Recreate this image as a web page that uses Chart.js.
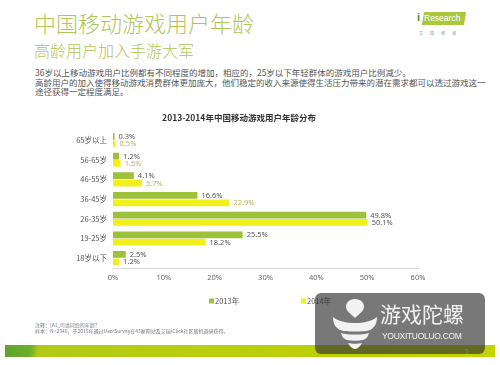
<!DOCTYPE html>
<html>
<head>
<meta charset="utf-8">
<script src="https://cdn.jsdelivr.net/npm/chart.js@4"></script>
<style>
  body { margin: 0; background: #fff; }
  #page { position: relative; width: 500px; height: 365px; overflow: hidden; font-family: "Noto Sans CJK SC", "Noto Sans", sans-serif; }
  .abs { position: absolute; white-space: nowrap; }
  #title { left: 34px; top: 11px; font-size: 22px; font-weight: 300; color: #adc758; line-height: 1; }
  #subtitle { left: 34px; top: 42px; font-size: 16px; font-weight: 300; color: #adc758; line-height: 1; }
  .body { left: 35px; font-size: 8.5px; color: #555; line-height: 1; }
  .note { left: 35px; font-size: 5px; color: #777; line-height: 1; }
  #chartBox { position: absolute; left: 0; top: 106px; width: 500px; height: 204px; }
  #band { left: 5px; top: 345px; width: 490px; height: 12px;
    background: linear-gradient(100deg, #5ea42e 0px, #6fae2a 26px, #b2ca16 34px, #c3d400 100%); }
  #wm { left: 315px; top: 293px; width: 170px; height: 61px; border-radius: 6px; background: rgba(50,50,50,0.66); }
</style>
</head>
<body>
<div id="page">
  <div class="abs" id="title">中国移动游戏用户年龄</div>
  <div class="abs" id="subtitle">高龄用户加入手游大军</div>
  <div class="abs body" style="top:68px">36岁以上移动游戏用户比例都有不同程度的增加，相应的，25岁以下年轻群体的游戏用户比例减少。</div>
  <div class="abs body" style="top:78px">高龄用户的加入使得移动游戏消费群体更加庞大，他们稳定的收入来源使得生活压力带来的潜在需求都可以透过游戏这一</div>
  <div class="abs body" style="top:87px">途径获得一定程度满足。</div>

  <!-- iResearch logo -->
  <div class="abs" style="left:417px;top:11px;font:bold 11px 'Liberation Sans',sans-serif;color:#5a8a1e;">i</div>
  <div class="abs" style="left:423px;top:12px;width:42px;height:13px;background:#a9c83c;transform:skewX(-10deg);"></div>
  <div class="abs" style="left:424px;top:12px;font:8.5px 'Liberation Sans',sans-serif;color:#fff;line-height:13px;">Research</div>
  <div class="abs" style="left:419px;top:30px;font-size:4px;color:#888;letter-spacing:7px;">艾瑞咨询</div>

  <div id="chartBox"><canvas id="myChart"></canvas></div>

  <div class="abs note" style="top:322px">注释：[A1_0]请问您的年龄？</div>
  <div class="abs note" style="top:328px">样本：N=2340，于2015年通过UserSurvey在43家网站及艾瑞iClick社区联机调研获得。</div>

  <div class="abs" id="band"></div>
  <div class="abs" style="left:465px;top:348px;font:7px 'Liberation Sans',sans-serif;color:#fff;">5</div>

  <!-- watermark -->
  <div class="abs" id="wm"></div>
  <svg class="abs" style="left:330px;top:297px" width="50" height="54" viewBox="0 0 50 54">
    <path d="M25 2 C19 2 16 6 16 10 C16 14 21 17 25 21 C29 17 34 14 34 10 C34 6 31 2 25 2 Z" fill="#f2f2f2"/>
    <path d="M3 20 C8 24 16 26 25 26 C34 26 42 24 47 20 C47 27 44 31 40 33 C35 35 15 35 10 33 C6 31 3 27 3 20 Z" fill="#f2f2f2"/>
    <path d="M11 36 C18 38 32 38 39 36 C38 40 36 42 33 43 C28 44 22 44 17 43 C14 42 12 40 11 36 Z" fill="#f2f2f2"/>
    <path d="M18 46 C22 47 28 47 32 46 C30 50 27 52 25 52 C23 52 20 50 18 46 Z" fill="#f2f2f2"/>
  </svg>
  <div class="abs" style="left:380px;top:303px;font-size:21px;color:#f2f2f2;line-height:1;">游戏陀螺</div>
  <div class="abs" style="left:382px;top:331px;font:8.5px 'Liberation Sans',sans-serif;color:#f2f2f2;letter-spacing:-0.3px;">YOUXITUOLUO.COM</div>
</div>

<script>
// data
const categories = ["65岁以上", "56-65岁", "46-55岁", "36-45岁", "26-35岁", "19-25岁", "18岁以下"];
const seriesNames = ["2013年", "2014年"];
const values2013 = [0.3, 1.2, 4.1, 16.6, 49.8, 25.5, 2.5];
const values2014 = [0.5, 1.5, 5.7, 22.9, 50.1, 18.2, 1.2];
const xTicks = [0, 10, 20, 30, 40, 50, 60];

const colors = ["#9dc13a", "#f2ef1c"];
// value label colours (2014 labels are partly khaki in the source)
const labelColors2013 = categories.map(() => "#555");
const labelColors2014 = ["#b8b45a", "#b8b45a", "#b8b45a", "#b8b45a", "#555", "#555", "#555"];

// draw value labels at the end of each bar
const valueLabels = {
  id: "valueLabels",
  afterDatasetsDraw(chart) {
    const ctx = chart.ctx;
    ctx.save();
    ctx.font = '7.5px "Noto Sans", sans-serif';
    ctx.textBaseline = "middle";
    ctx.textAlign = "left";
    chart.data.datasets.forEach((ds, i) => {
      chart.getDatasetMeta(i).data.forEach((bar, j) => {
        ctx.fillStyle = ds.labelColors[j];
        ctx.fillText(ds.data[j].toFixed(1) + "%", bar.x + 4, bar.y + 0.5);
      });
    });
    ctx.restore();
  },
};

// small square legend, items spread apart like the source
const squareLegend = {
  id: "squareLegend",
  afterDraw(chart) {
    const ctx = chart.ctx;
    const xs = [209, 301];
    const y = 195;
    ctx.save();
    ctx.font = '7.5px "Noto Sans CJK SC", sans-serif';
    ctx.textBaseline = "middle";
    chart.data.datasets.forEach((ds, i) => {
      ctx.fillStyle = ds.backgroundColor;
      ctx.fillRect(xs[i], y - 2.5, 5, 5);
      ctx.fillStyle = "#555";
      ctx.fillText(ds.label, xs[i] + 6, y);
    });
    ctx.restore();
  },
};

const data = {
  labels: categories,
  datasets: [
    {
      label: seriesNames[0],
      data: values2013,
      backgroundColor: colors[0],
      labelColors: labelColors2013,
      barPercentage: 0.92,
      categoryPercentage: 0.75,
    },
    {
      label: seriesNames[1],
      data: values2014,
      backgroundColor: colors[1],
      labelColors: labelColors2014,
      barPercentage: 0.92,
      categoryPercentage: 0.75,
    },
  ],
};

const config = {
  type: "bar",
  data,
  plugins: [valueLabels, squareLegend],
  options: {
    indexAxis: "y",
    responsive: true,
    maintainAspectRatio: false,
    animation: false,
    layout: { padding: { left: 60, right: 82, top: 0, bottom: 23 } },
    plugins: {
      legend: { display: false },
      tooltip: { enabled: false },
      title: {
        display: true,
        text: "2013-2014年中国移动游戏用户年龄分布",
        color: "#333",
        font: { family: '"Noto Sans CJK SC", sans-serif', size: 8.5, weight: "bold" },
        padding: { top: 7, bottom: 7 },
      },
    },
    scales: {
      x: {
        min: 0,
        max: 60,
        afterBuildTicks: (s) => { s.ticks = xTicks.map((v) => ({ value: v })); },
        grid: { display: false, drawTicks: false },
        border: { display: true, color: "#d9d9d9" },
        ticks: {
          padding: 5,
          color: "#666",
          font: { family: '"Noto Sans", sans-serif', size: 7.5 },
          callback: (v) => v + "%",
        },
      },
      y: {
        afterFit: (s) => { s.width = 53; },
        grid: { display: false, drawTicks: false },
        border: { display: false },
        ticks: {
          padding: 6,
          color: "#555",
          font: { family: '"Noto Sans CJK SC", sans-serif', size: 7.5 },
        },
      },
    },
  },
};

const myChart = new Chart(document.getElementById("myChart"), config);
</script>
</body>
</html>
